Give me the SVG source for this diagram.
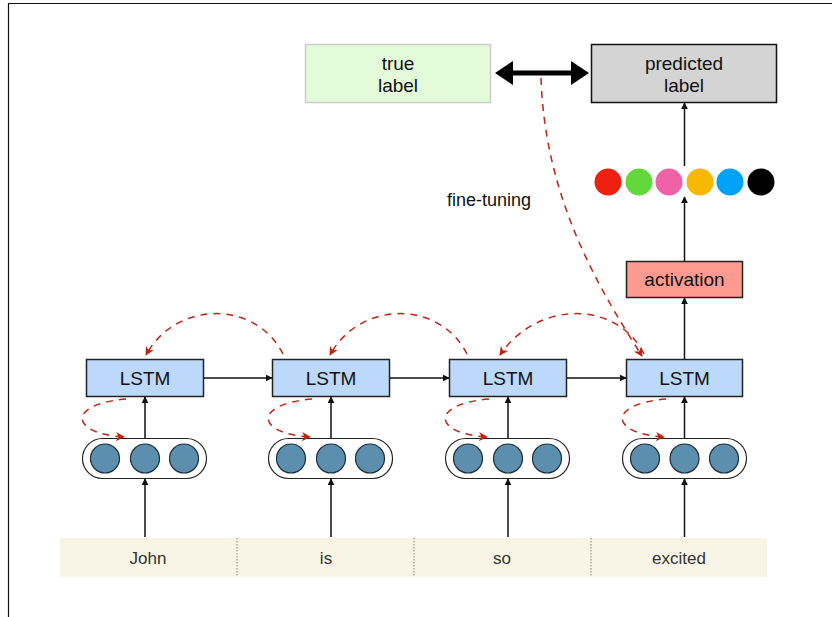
<svg xmlns="http://www.w3.org/2000/svg" width="832" height="617" viewBox="0 0 832 617">
<style>
text{font-family:"Liberation Sans",Arial,sans-serif;text-anchor:middle;fill:#111}
.lbl{font-size:19px}
.word{font-size:17px;fill:#333}
.lstm{fill:#bcd9fb;stroke:#222;stroke-width:1.5}
.pill{fill:#fff;stroke:#222;stroke-width:1.2}
.emb{fill:#5b8fad;stroke:#1e2e3a;stroke-width:1.2}
.arr{stroke:#111;stroke-width:1.5;fill:none;marker-end:url(#ah)}
.rd{stroke:#c0220e;stroke-width:1.5;fill:none;stroke-dasharray:7 6;marker-end:url(#rh)}
</style>
<defs>
<marker id="ah" viewBox="0 0 10 10" refX="9" refY="5" markerWidth="7" markerHeight="7" markerUnits="userSpaceOnUse" orient="auto"><path d="M0,0 L10,5 L0,10 z" fill="#111"/></marker>
<marker id="rh" viewBox="0 0 10 10" refX="9" refY="5" markerWidth="9" markerHeight="9" markerUnits="userSpaceOnUse" orient="auto"><path d="M0,0 L10,5 L0,10 L3,5 z" fill="#c0220e"/></marker>
</defs>
<rect width="832" height="617" fill="#fff"/>
<path d="M8.5,617 V3.5 H832" fill="none" stroke="#111" stroke-width="1.2"/>

<g id="words">
<rect x="60" y="538" width="707" height="39" fill="#f8f5e6"/>
<g stroke="#888" stroke-width="1" stroke-dasharray="1.5 1.5">
<line x1="237" y1="538" x2="237" y2="577"/>
<line x1="414" y1="538" x2="414" y2="577"/>
<line x1="591" y1="538" x2="591" y2="577"/>
</g>
<text class="word" x="148" y="564">John</text>
<text class="word" x="326" y="564">is</text>
<text class="word" x="502" y="564">so</text>
<text class="word" x="679" y="564">excited</text>
</g>

<g id="true-label">
<rect x="305.5" y="44.5" width="185" height="58" fill="#e3fbd9" stroke="#cccccc" stroke-width="1.5"/>
<text class="lbl" x="398" y="70">true</text>
<text class="lbl" x="398" y="92">label</text>
</g>
<g id="predicted-label">
<rect x="591.5" y="44.5" width="185" height="58" fill="#d4d4d4" stroke="#111" stroke-width="1.5"/>
<text class="lbl" x="684" y="70">predicted</text>
<text class="lbl" x="684" y="92">label</text>
</g>
<g id="outputs">
<circle cx="608" cy="182" r="13.5" fill="#f02010"/>
<circle cx="639" cy="182" r="13.5" fill="#62d83c"/>
<circle cx="669" cy="182" r="13.5" fill="#f062a8"/>
<circle cx="700" cy="182" r="13.5" fill="#f8b800"/>
<circle cx="730" cy="182" r="13.5" fill="#00a2f8"/>
<circle cx="761" cy="182" r="13.5" fill="#000"/>
</g>
<g id="activation">
<rect x="626.5" y="261.5" width="116" height="36" fill="#ff9a90" stroke="#222" stroke-width="1.5"/>
<text class="lbl" x="684.5" y="286">activation</text>
</g>

<g id="lstm1"><rect class="lstm" x="86.5" y="359.5" width="117" height="37"/><text class="lbl" x="145" y="385">LSTM</text></g>
<g id="lstm2"><rect class="lstm" x="272.5" y="359.5" width="117" height="37"/><text class="lbl" x="331" y="385">LSTM</text></g>
<g id="lstm3"><rect class="lstm" x="449.5" y="359.5" width="117" height="37"/><text class="lbl" x="508" y="385">LSTM</text></g>
<g id="lstm4"><rect class="lstm" x="626.5" y="359.5" width="116" height="37"/><text class="lbl" x="684.5" y="385">LSTM</text></g>

<g id="emb1"><rect class="pill" x="82.5" y="438.5" width="124" height="40" rx="20"/><circle class="emb" cx="105" cy="458.5" r="14.5"/><circle class="emb" cx="145" cy="458.5" r="14.5"/><circle class="emb" cx="184" cy="458.5" r="14.5"/></g>
<g id="emb2"><rect class="pill" x="268.5" y="438.5" width="124" height="40" rx="20"/><circle class="emb" cx="291" cy="458.5" r="14.5"/><circle class="emb" cx="331" cy="458.5" r="14.5"/><circle class="emb" cx="370" cy="458.5" r="14.5"/></g>
<g id="emb3"><rect class="pill" x="445.5" y="438.5" width="124" height="40" rx="20"/><circle class="emb" cx="468" cy="458.5" r="14.5"/><circle class="emb" cx="508" cy="458.5" r="14.5"/><circle class="emb" cx="547" cy="458.5" r="14.5"/></g>
<g id="emb4"><rect class="pill" x="622.5" y="438.5" width="124" height="40" rx="20"/><circle class="emb" cx="645" cy="458.5" r="14.5"/><circle class="emb" cx="684.5" cy="458.5" r="14.5"/><circle class="emb" cx="724" cy="458.5" r="14.5"/></g>

<text x="489" y="206" style="font-size:18px">fine-tuning</text>

<g id="connectors">
<line class="arr" x1="145" y1="537" x2="145" y2="479"/>
<line class="arr" x1="331" y1="537" x2="331" y2="479"/>
<line class="arr" x1="508" y1="537" x2="508" y2="479"/>
<line class="arr" x1="684.5" y1="537" x2="684.5" y2="479"/>
<line class="arr" x1="145" y1="438" x2="145" y2="397"/>
<line class="arr" x1="331" y1="438" x2="331" y2="397"/>
<line class="arr" x1="508" y1="438" x2="508" y2="397"/>
<line class="arr" x1="684.5" y1="438" x2="684.5" y2="397"/>
<line class="arr" x1="204" y1="378" x2="272" y2="378"/>
<line class="arr" x1="390" y1="378" x2="449" y2="378"/>
<line class="arr" x1="567" y1="378" x2="626" y2="378"/>
<line class="arr" x1="684.5" y1="359" x2="684.5" y2="298"/>
<line class="arr" x1="684.5" y1="261" x2="684.5" y2="197"/>
<line class="arr" x1="684.5" y1="166" x2="684.5" y2="103"/>
<line x1="508" y1="73" x2="575" y2="73" stroke="#000" stroke-width="5"/>
<path d="M495,73 L513,61 L513,85 z" fill="#000"/>
<path d="M589,73 L571,61 L571,85 z" fill="#000"/>
<path class="rd" d="M283,354 C256,300 176,300 146,355"/>
<path class="rd" d="M467,354 C440,300 360,300 330,355"/>
<path class="rd" d="M644,354 C617,300 537,300 500,355"/>
<path class="rd" d="M126,399 C66,404 70,434 124,437"/>
<path class="rd" d="M312,399 C252,404 256,434 310,437"/>
<path class="rd" d="M489,399 C429,404 433,434 487,437"/>
<path class="rd" d="M666,399 C606,404 610,434 664,437"/>
<path class="rd" d="M541,78 C545,200 600,290 642,356"/>
</g>
</svg>
